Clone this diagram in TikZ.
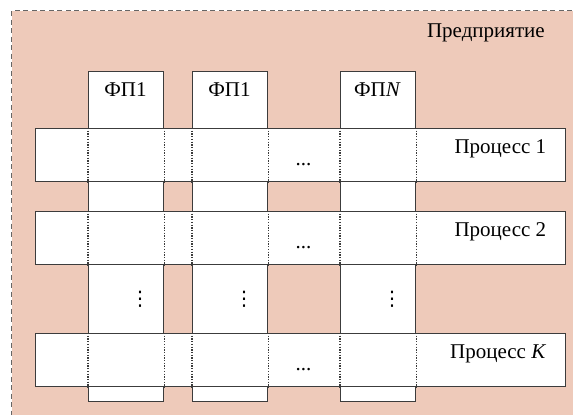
\documentclass[tikz,border=0pt]{standalone}
\usepackage{fontspec}
\setmainfont{Liberation Serif}
\newfontfamily\symfont{DejaVu Sans}
\usetikzlibrary{calc}
\definecolor{bgc}{HTML}{EECABA}
\definecolor{linec}{HTML}{3C3C3C}
\definecolor{dashc}{HTML}{666666}
\begin{document}
\begin{tikzpicture}[x=1pt,y=-1pt,
  ent/.style={draw=dashc, line width=1.4pt, dash pattern=on 5pt off 3.5pt, fill=bgc, inner sep=0pt},
  box/.style={draw=linec, line width=1.4pt, fill=white, inner sep=0pt},
  sep/.style={draw=linec, line width=1.1pt, dash pattern=on 1.3pt off 1.4pt},
  lbl/.style={font=\fontsize{21}{24}\selectfont, inner sep=0pt},
  vd/.style={font=\symfont\fontsize{20}{24}\selectfont, inner sep=0pt},
]
\useasboundingbox (0,0) rectangle (573,415);
\node[ent, anchor=north west, minimum width=600, minimum height=440] (ent) at (11,10) {};
\node[lbl, anchor=base east] (entl) at (545,37) {Предприятие};
% columns
\node[box, anchor=north west, minimum width=75, minimum height=330] (c1) at (88,71) {};
\node[box, anchor=north west, minimum width=75, minimum height=330] (c2) at (192,71) {};
\node[box, anchor=north west, minimum width=75, minimum height=330] (cN) at (340,71) {};
\node[lbl, anchor=base] (l1) at (125.5,96) {ФП1};
\node[lbl, anchor=base] (l2) at (229.5,96) {ФП1};
\node[lbl, anchor=base] (lN) at (377.5,96) {ФП\textit{N}};
% vertical dots
\node[vd] (v1) at (140,299.5) {⋮};
\node[vd] (v2) at (244,299.5) {⋮};
\node[vd] (vN) at (392,299.5) {⋮};
% rows
\node[box, anchor=north west, minimum width=530, minimum height=53] (r1) at (35,128) {};
\node[box, anchor=north west, minimum width=530, minimum height=53] (r2) at (35,211) {};
\node[box, anchor=north west, minimum width=530, minimum height=53] (rK) at (35,333) {};
\foreach \r in {r1,r2,rK}{
  \foreach \c in {c1,c2,cN}{
    \draw[sep] (\c.west |- \r.north) -- (\c.west |- \r.south);
    \draw[sep] (\c.east |- \r.north) -- (\c.east |- \r.south);
  }
}
\node[lbl, anchor=base east] (t1) at ($(r1.north east)+(-20,25)$) {Процесс 1};
\node[lbl, anchor=base east] (t2) at ($(r2.north east)+(-20,25)$) {Процесс 2};
\node[lbl, anchor=base east] (tK) at ($(rK.north east)+(-20,25)$) {Процесс \textit{K}};
\node[lbl] (d1) at (303.5,165) {...};
\node[lbl] (d2) at (303.5,248) {...};
\node[lbl] (dK) at (303.5,370) {...};
\end{tikzpicture}
\end{document}
